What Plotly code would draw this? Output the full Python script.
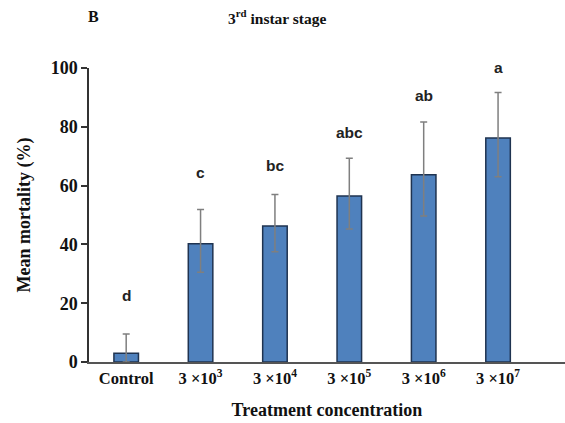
import plotly.graph_objects as go

categories = ["Control", "3 ×10<sup>3</sup>", "3 ×10<sup>4</sup>", "3 ×10<sup>5</sup>", "3 ×10<sup>6</sup>", "3 ×10<sup>7</sup>"]
means = [3.0, 40.2, 46.3, 56.5, 63.7, 76.2]
err_plus = [6.5, 11.7, 10.7, 12.8, 17.9, 15.5]
err_minus = [3.0, 9.7, 8.8, 11.3, 14.0, 13.2]
letters = ["d", "c", "bc", "abc", "ab", "a"]
letter_y = [22.5, 64.6, 66.7, 77.9, 90.5, 100.3]
y_max = 100

xpos = list(range(len(categories)))
serif = "Liberation Serif, Times New Roman, serif"
sans = "Liberation Sans, Arial, sans-serif"

fig = go.Figure()
fig.add_trace(go.Bar(
    x=xpos, y=means, width=0.33,
    marker=dict(color="#4F81BD", line=dict(color="#1F3350", width=1.5)),
    error_y=dict(type="data", array=err_plus, arrayminus=err_minus, symmetric=False,
                 color="#7F7F7F", thickness=1.5, width=3.5),
    cliponaxis=False,
))

for x, y, t in zip(xpos, letter_y, letters):
    fig.add_annotation(x=x, y=y / y_max, text=t, showarrow=False, xref="x", yref="paper",
                       font=dict(family=sans, size=15.5, color="#222", weight="bold"),
                       yanchor="middle")

fig.add_annotation(text="B", xref="paper", yref="paper",
                   x=(93 - 89) / 476, y=1 + (68 - 17) / 294, showarrow=False,
                   font=dict(family=serif, size=16, color="#111", weight="bold"),
                   xanchor="center", yanchor="middle")
fig.add_annotation(text="3<sup>rd</sup> instar stage", xref="paper", yref="paper",
                   x=(277 - 89) / 476, y=1 + (68 - 17) / 294, showarrow=False,
                   font=dict(family=serif, size=15.5, color="#111", weight="bold"),
                   xanchor="center", yanchor="middle")

fig.update_layout(
    width=565, height=423,
    margin=dict(l=89, r=0, t=68, b=61),
    paper_bgcolor="white", plot_bgcolor="white",
    showlegend=False,
    font=dict(family=serif, size=15, color="#111"),
    xaxis=dict(
        tickvals=xpos, ticktext=categories,
        range=[-0.5, 5.9], showline=True, linecolor="#555", linewidth=1.5,
        ticks="", showgrid=False, zeroline=False,
        tickfont=dict(family=serif, size=16.5, color="#111", weight="bold"),
        title=dict(text="Treatment concentration", standoff=17,
                   font=dict(family=serif, size=18, color="#111", weight="bold")),
    ),
    yaxis=dict(
        range=[0, y_max], tickvals=[0, 20, 40, 60, 80, 100],
        showline=True, linecolor="#333", linewidth=1.5,
        ticks="outside", ticklen=6, tickcolor="#333", tickwidth=1.5,
        showgrid=False, zeroline=False,
        tickfont=dict(family=serif, size=18, color="#111", weight="bold"),
        title=dict(text="Mean mortality (%)", standoff=15,
                   font=dict(family=serif, size=18, color="#111", weight="bold")),
    ),
)

fig.write_html("out.html")
